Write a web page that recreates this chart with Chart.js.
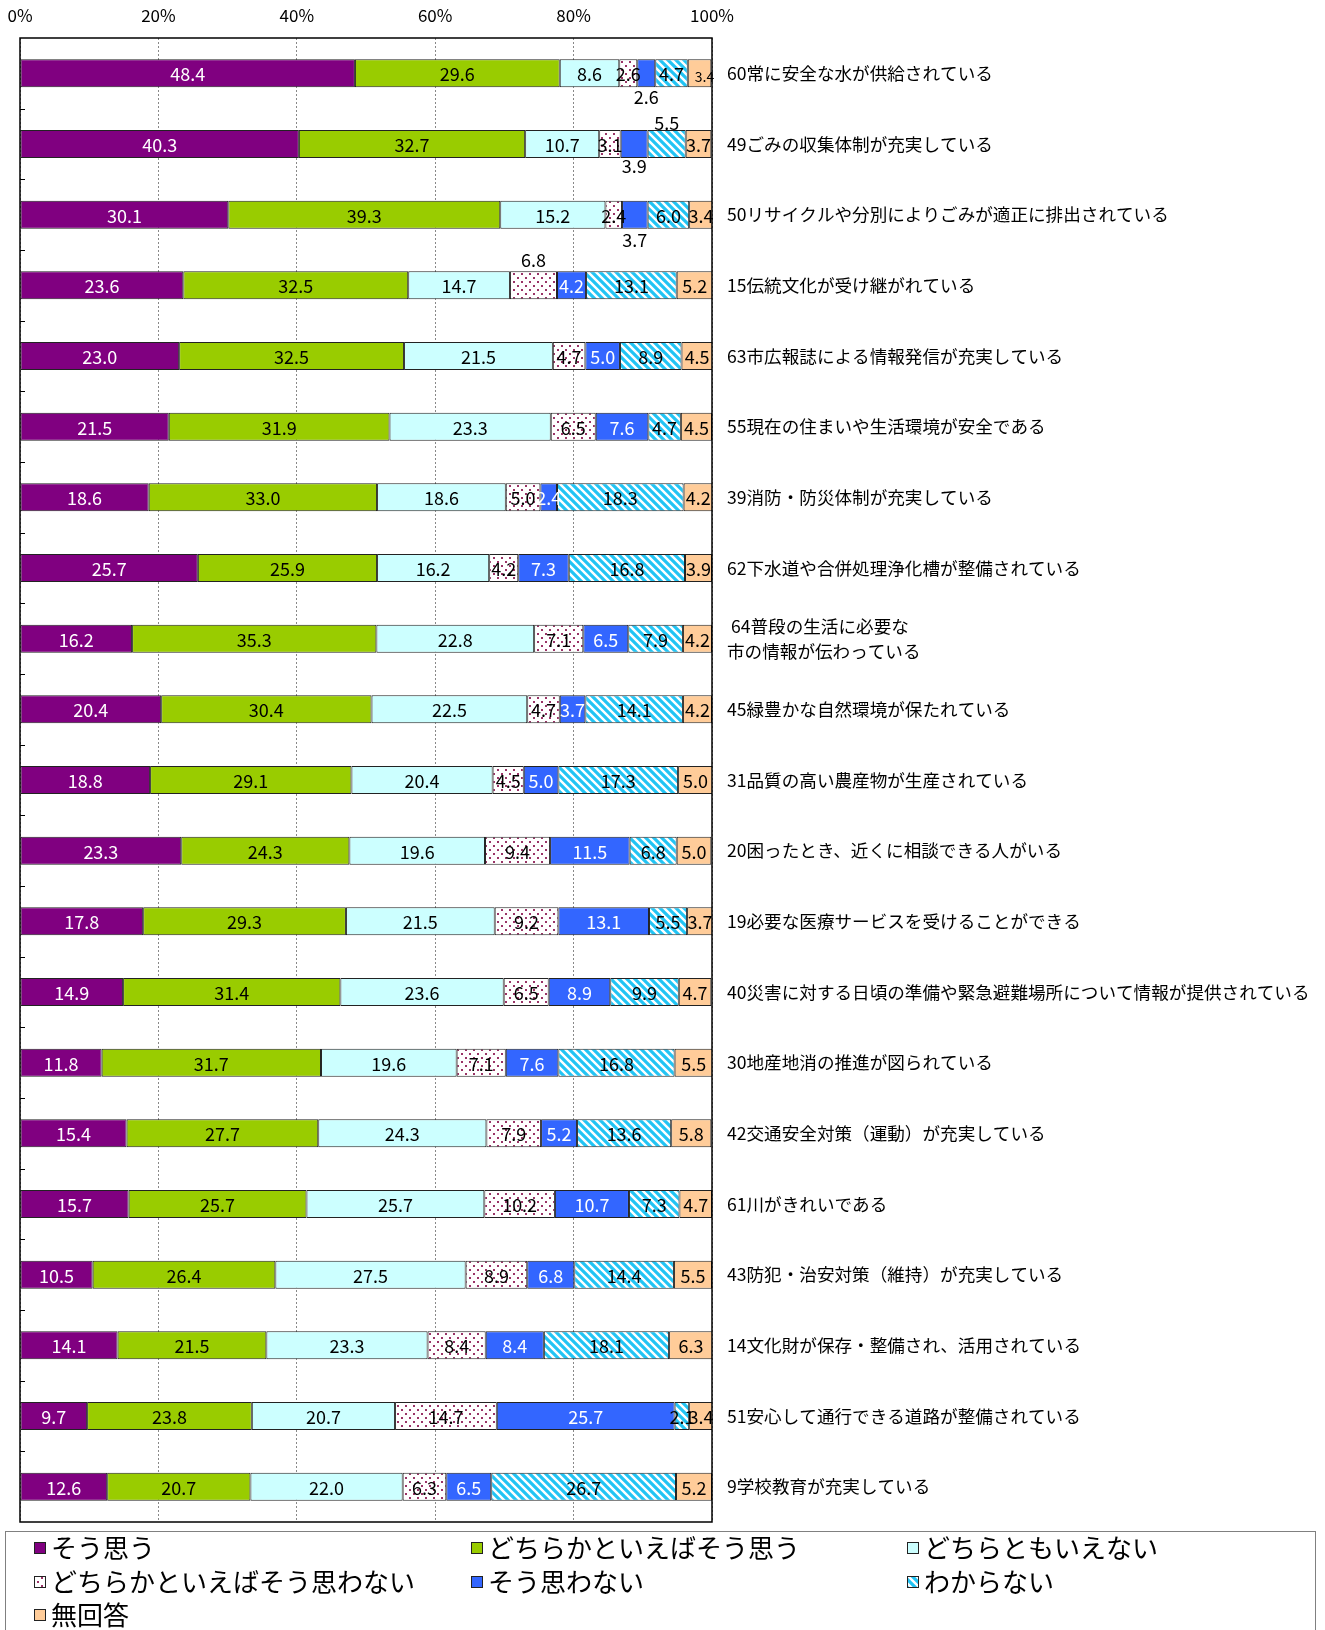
<!DOCTYPE html>
<html><head><meta charset="utf-8">
<script src="https://cdn.jsdelivr.net/npm/chart.js@4.4.1/dist/chart.umd.min.js"></script>
<style>html,body{margin:0;padding:0;background:#fff;}#wrap{width:1325px;height:1630px;}</style>
</head><body><div id="wrap"><canvas id="c" width="1325" height="1630"></canvas></div>
<script>
const categories = [
  '60常に安全な水が供給されている',
  '49ごみの収集体制が充実している',
  '50リサイクルや分別によりごみが適正に排出されている',
  '15伝統文化が受け継がれている',
  '63市広報誌による情報発信が充実している',
  '55現在の住まいや生活環境が安全である',
  '39消防・防災体制が充実している',
  '62下水道や合併処理浄化槽が整備されている',
  [' 64普段の生活に必要な', '市の情報が伝わっている'],
  '45緑豊かな自然環境が保たれている',
  '31品質の高い農産物が生産されている',
  '20困ったとき、近くに相談できる人がいる',
  '19必要な医療サービスを受けることができる',
  '40災害に対する日頃の準備や緊急避難場所について情報が提供されている',
  '30地産地消の推進が図られている',
  '42交通安全対策（運動）が充実している',
  '61川がきれいである',
  '43防犯・治安対策（維持）が充実している',
  '14文化財が保存・整備され、活用されている',
  '51安心して通行できる道路が整備されている',
  '9学校教育が充実している'
];
const seriesNames = ['そう思う','どちらかといえばそう思う','どちらともいえない','どちらかといえばそう思わない','そう思わない','わからない','無回答'];
const agree       = [48.4,40.3,30.1,23.6,23.0,21.5,18.6,25.7,16.2,20.4,18.8,23.3,17.8,14.9,11.8,15.4,15.7,10.5,14.1,9.7,12.6];
const ratherAgree = [29.6,32.7,39.3,32.5,32.5,31.9,33.0,25.9,35.3,30.4,29.1,24.3,29.3,31.4,31.7,27.7,25.7,26.4,21.5,23.8,20.7];
const neutral     = [8.6,10.7,15.2,14.7,21.5,23.3,18.6,16.2,22.8,22.5,20.4,19.6,21.5,23.6,19.6,24.3,25.7,27.5,23.3,20.7,22.0];
const ratherNot   = [2.6,3.1,2.4,6.8,4.7,6.5,5.0,4.2,7.1,4.7,4.5,9.4,9.2,6.5,7.1,7.9,10.2,8.9,8.4,14.7,6.3];
const disagree    = [2.6,3.9,3.7,4.2,5.0,7.6,2.4,7.3,6.5,3.7,5.0,11.5,13.1,8.9,7.6,5.2,10.7,6.8,8.4,25.7,6.5];
const unknown     = [4.7,5.5,6.0,13.1,8.9,4.7,18.3,16.8,7.9,14.1,17.3,6.8,5.5,9.9,16.8,13.6,7.3,14.4,18.1,2.1,26.7];
const noAnswer    = [3.4,3.7,3.4,5.2,4.5,4.5,4.2,3.9,4.2,4.2,5.0,5.0,3.7,4.7,5.5,5.8,4.7,5.5,6.3,3.4,5.2];
const xTicks = [0,20,40,60,80,100];
// labels displaced outside the bar: [row, series, dy]
const labelShift = [[0,4,23],[1,4,21],[1,5,-22],[2,4,24],[3,3,-26]];

const FONT = "'Noto Sans CJK JP','Noto Sans',sans-serif";

function dotPattern(){
  const c = document.createElement('canvas'); c.width = 8; c.height = 8;
  const g = c.getContext('2d');
  g.fillStyle = '#ffffff'; g.fillRect(0,0,8,8);
  g.fillStyle = '#993366';
  g.fillRect(1,1,2,2); g.fillRect(5,5,2,2);
  return g.createPattern(c,'repeat');
}
function stripePattern(){
  const c = document.createElement('canvas'); c.width = 8; c.height = 8;
  const g = c.getContext('2d');
  g.fillStyle = '#ffffff'; g.fillRect(0,0,8,8);
  g.strokeStyle = '#22C4F4'; g.lineWidth = 3.2;
  g.beginPath();
  g.moveTo(-2,-2); g.lineTo(10,10);
  g.moveTo(-10,-2); g.lineTo(2,10);
  g.moveTo(6,-2); g.lineTo(18,10);
  g.stroke();
  return g.createPattern(c,'repeat');
}
const dots = dotPattern(), stripes = stripePattern();
const fills = ['#800080','#99CC00','#CCFFFF',dots,'#3366FF',stripes,'#FFCC99'];
const seriesData = [agree,ratherAgree,neutral,ratherNot,disagree,unknown,noAnswer];

const datasets = seriesNames.map((n,i)=>({
  label:n, data:seriesData[i], backgroundColor:fills[i],
  borderColor:'#222222', borderWidth:1, borderSkipped:false,
  barPercentage:0.396, categoryPercentage:1
}));

const framePlugin = {
  id:'frame',
  afterDatasetsDraw(chart){
    const ctx = chart.ctx, a = chart.chartArea;
    ctx.save();
    ctx.textAlign='center'; ctx.textBaseline='middle';
    chart.data.datasets.forEach((ds,si)=>{
      const meta = chart.getDatasetMeta(si);
      meta.data.forEach((el,ri)=>{
        const v = ds.data[ri];
        let cx = (el.x + el.base)/2, cy = el.y + 1, size = 18;
        let shifted = labelShift.find(s=>s[0]===ri && s[1]===si);
        if (shifted) cy += shifted[2];
        if (ri===0 && si===6){ cx += 5; size = 14; cy += 2; }
        ctx.font = size + "px " + FONT;
        ctx.fillStyle = (!shifted && (si===0 || si===4)) ? '#ffffff' : '#000000';
        ctx.fillText(v.toFixed(1), cx, cy);
      });
    });
    ctx.strokeStyle='#000'; ctx.lineWidth=1.5;
    ctx.strokeRect(a.left, a.top, a.right-a.left, a.bottom-a.top);
    const n = chart.data.labels.length, step = (a.bottom-a.top)/n;
    ctx.lineWidth=1; ctx.strokeStyle='#000';
    ctx.beginPath();
    for(let i=1;i<n;i++){ const y=Math.round(a.top+i*step)+0.5; ctx.moveTo(a.left,y); ctx.lineTo(a.left+5,y); }
    ctx.stroke();
    // legend
    ctx.strokeStyle='#808080'; ctx.lineWidth=1;
    ctx.strokeRect(5.5, 1531.5, 1310, 140);
    const cols=[34,471,907], rows=[1548,1582,1615];
    ctx.font = "26px " + FONT; ctx.textAlign='left'; ctx.textBaseline='middle';
    seriesNames.forEach((n,i)=>{
      const x = cols[i%3], y = rows[Math.floor(i/3)];
      ctx.fillStyle = fills[i];
      ctx.fillRect(x, y-6, 12, 12);
      ctx.strokeStyle='#222'; ctx.strokeRect(x+0.5, y-5.5, 11, 11);
      ctx.fillStyle='#000';
      ctx.fillText(n, x+17, y);
    });
    ctx.restore();
  }
};

new Chart(document.getElementById('c'), {
  type:'bar',
  data:{labels:categories, datasets},
  options:{
    indexAxis:'y', responsive:false, animation:false,
    layout:{padding:{left:20, top:0, right:0, bottom:108}},
    plugins:{legend:{display:false}, tooltip:{enabled:false}},
    scales:{
      x:{
        position:'top', stacked:true, min:0, max:100,
        afterBuildTicks(s){ s.ticks = xTicks.map(v=>({value:v})); },
        afterFit(s){ s.height = 38; s.paddingLeft = 0; s.paddingRight = 0; },
        ticks:{ callback:v=>v+'%', color:'#000', padding:12, font:{family:FONT, size:17} },
        grid:{ color:'#888888', lineWidth:1, drawTicks:false },
        border:{ display:false, dash:[2,2] }
      },
      y:{
        position:'right', stacked:true,
        afterFit(s){ s.width = 1325-712; },
        ticks:{ crossAlign:'near', padding:15, color:'#000', autoSkip:false, font:{family:FONT, size:17.6, lineHeight:1.4} },
        grid:{ display:false, drawTicks:false },
        border:{ display:false }
      }
    }
  },
  plugins:[framePlugin]
});
</script></body></html>
